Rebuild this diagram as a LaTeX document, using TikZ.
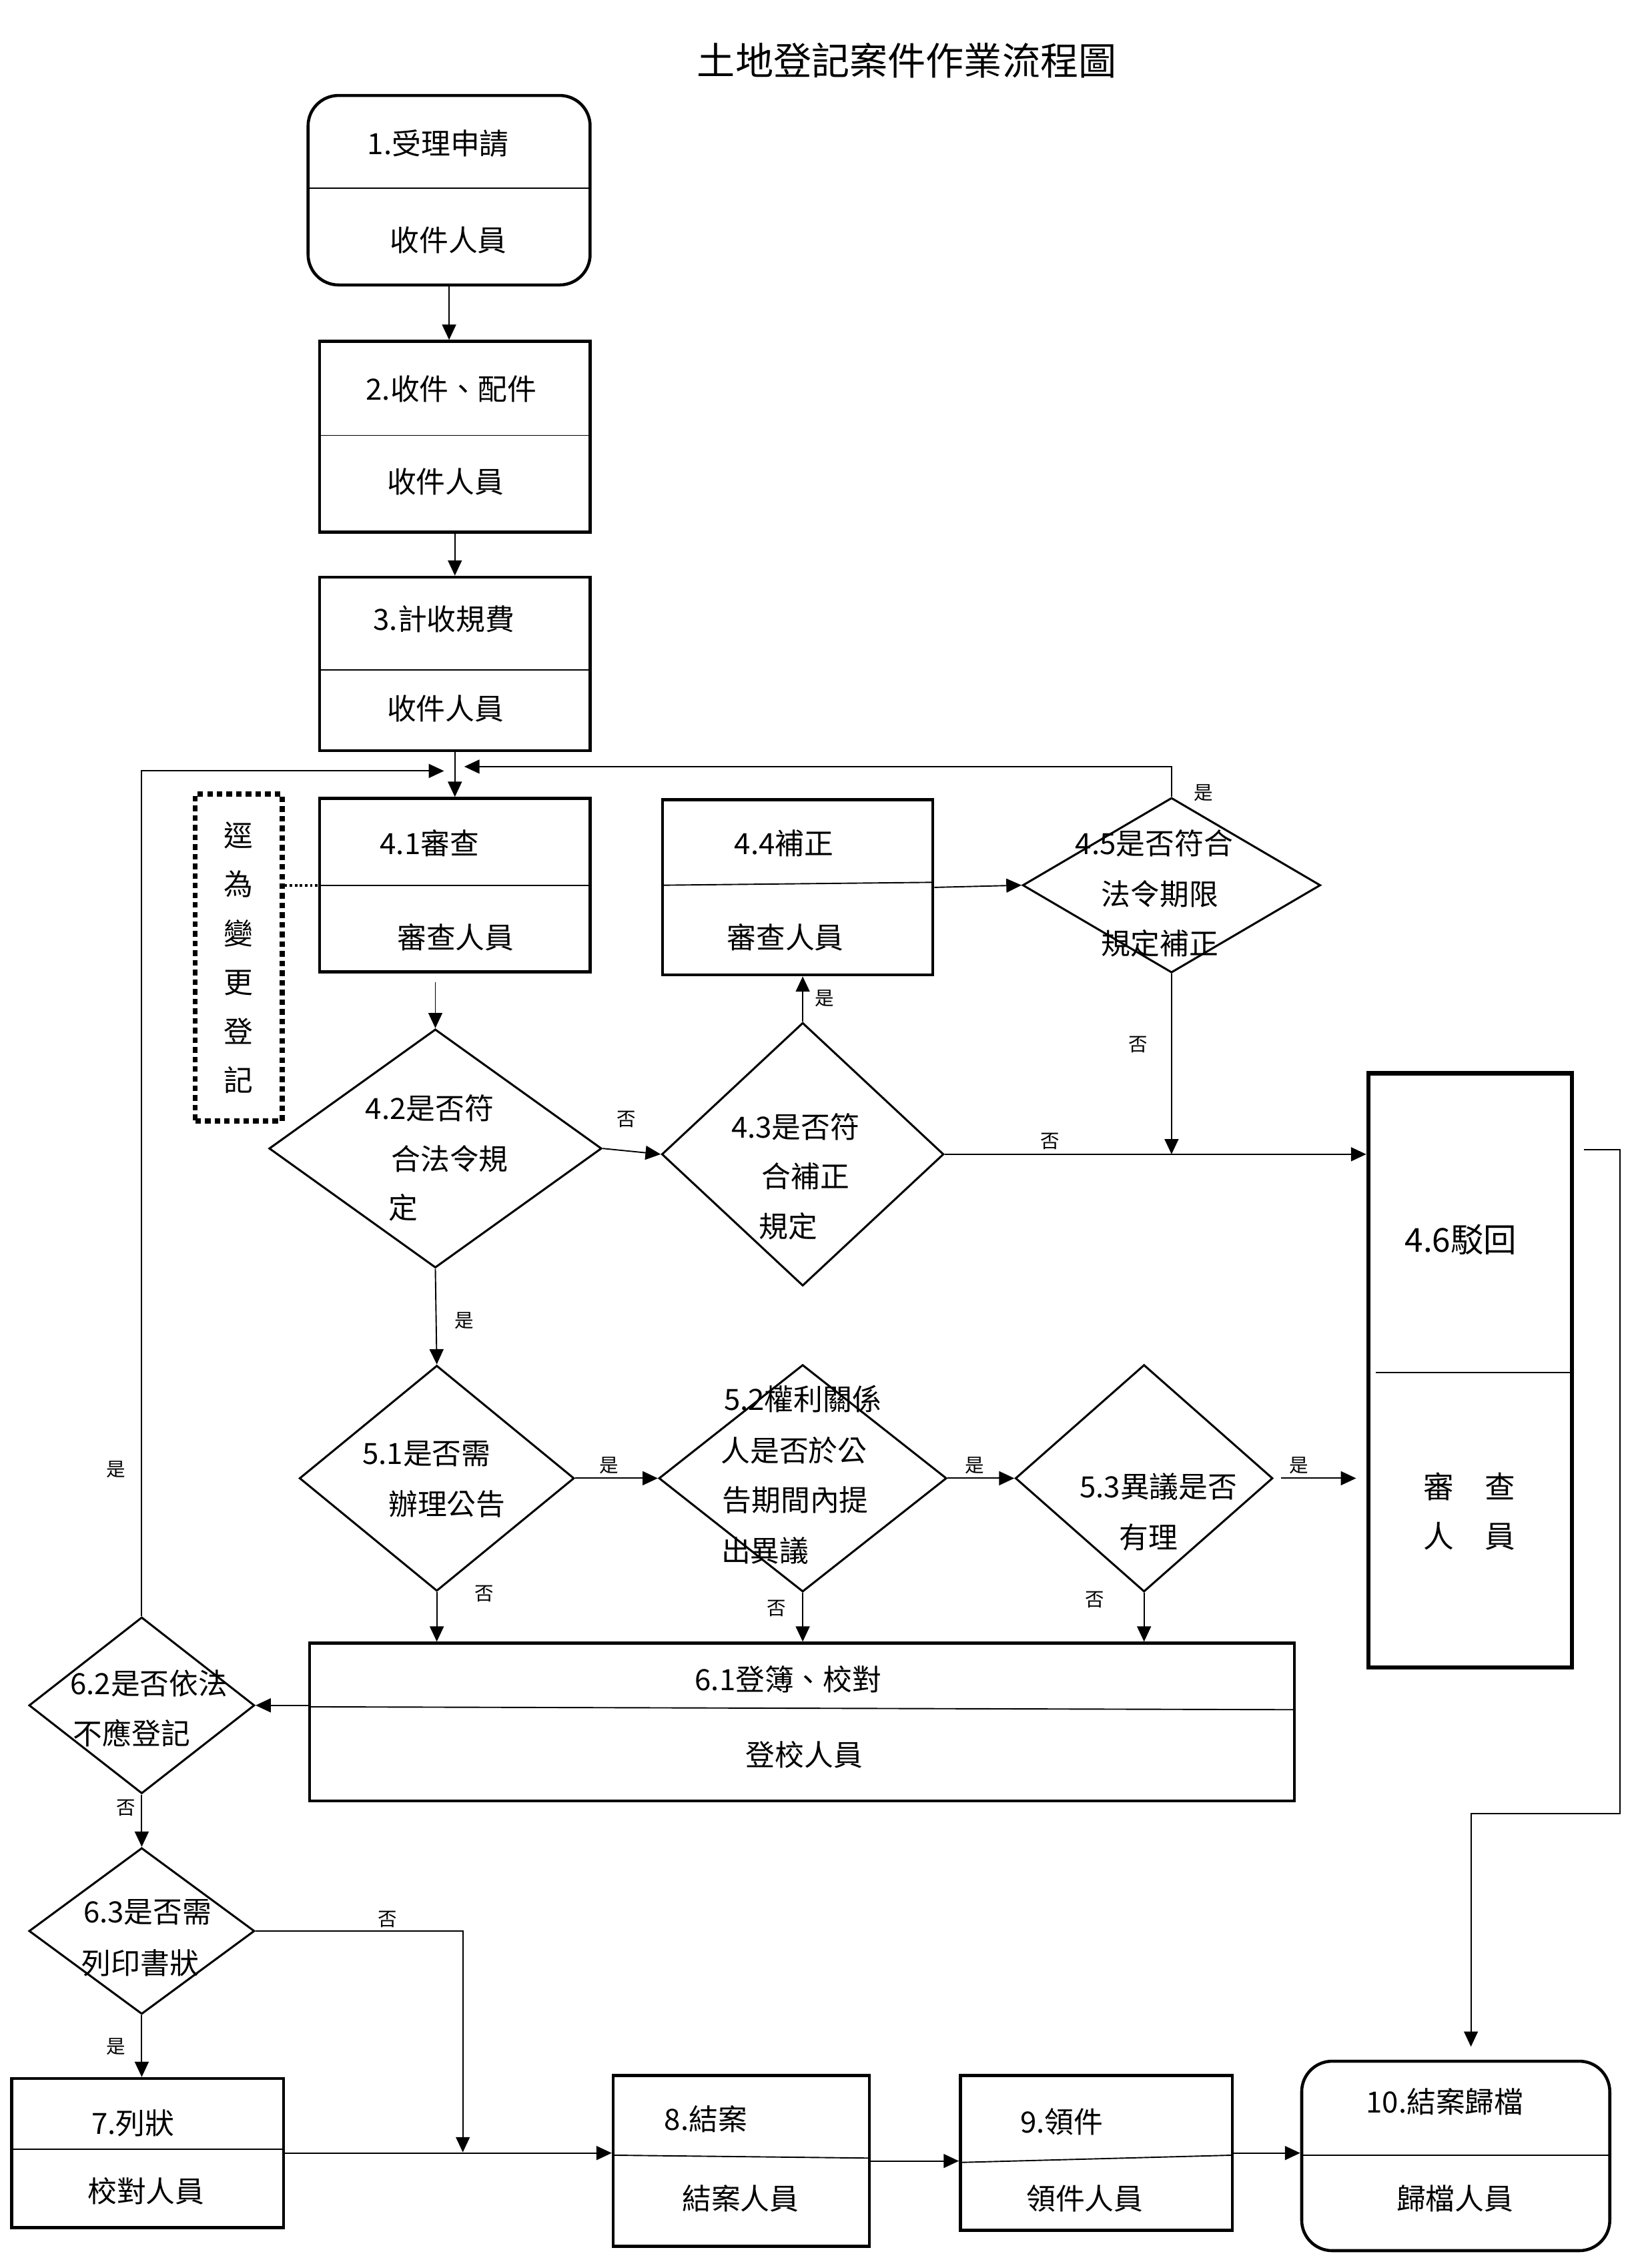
\documentclass[tikz,border=0pt]{standalone}
\usepackage{fontspec}
\setmainfont{Noto Sans CJK TC}
\usetikzlibrary{arrows.meta, positioning, calc, shapes.geometric, fit}

\tikzset{
  box/.style={draw, line width=1.2pt, inner sep=0pt},
  rbox/.style={box, rounded corners=12pt},
  cond/.style={draw, diamond, line width=0.8pt, inner sep=0pt},
  note/.style={draw, line width=2pt, dash pattern=on 2.2pt off 1.6pt, inner sep=0pt,
    align=center, font=\fontsize{11.5}{19.3}\selectfont},
  txt/.style={font=\fontsize{11.5}{14}\selectfont, inner sep=0pt},
  yn/.style={font=\fontsize{7.5}{9}\selectfont, inner sep=0pt},
  flow/.style={-{Triangle[length=6pt,width=5.5pt]}, line width=0.5pt},
  sep/.style={line width=0.5pt},
}

\begin{document}
\begin{tikzpicture}[x=0.02cm, y=-0.02cm]
  \useasboundingbox (0,0) rectangle (1131,1568);
  \node[font=\fontsize{15}{18}\selectfont] (title) at (627,42) {土地登記案件作業流程圖};

  % boxes
  \node[rbox, fit={(213,66)(408,197)}] (b1) {};
  \draw[sep] (213,130) -- (408,130);
  \node[txt] (b1a) at (303,99) {1.受理申請};
  \node[txt] (b1b) at (310,166) {收件人員};

  \node[box, fit={(221,236)(408,368)}] (b2) {};
  \draw[sep] (221,301) -- (408,301);
  \node[txt] (b2a) at (312,269) {2.收件、配件};
  \node[txt] (b2b) at (308,333) {收件人員};

  \node[box, fit={(221,399)(408,519)}] (b3) {};
  \draw[sep] (221,463) -- (408,463);
  \node[txt] (b3a) at (307,428) {3.計收規費};
  \node[txt] (b3b) at (308,490) {收件人員};

  \node[box, fit={(221,552)(408,672)}] (b41) {};
  \draw[sep] (221,612) -- (408,612);
  \node[txt] (b41a) at (297,583) {4.1審查};
  \node[txt] (b41b) at (315,648) {審查人員};

  \node[note, minimum width=1.2cm, minimum height=4.52cm] (note) at (165,662) {逕\\為\\變\\更\\登\\記};

  \node[box, fit={(458,553)(645,674)}] (b44) {};
  \draw[sep] (458,612) -- (645,610);
  \node[txt] (b44a) at (542,583) {4.4補正};
  \node[txt] (b44b) at (543,648) {審查人員};

  \node[box, line width=1.6pt, fit={(946,742)(1087,1153)}] (b46) {};
  \draw[sep] (951,949) -- (1087,949);
  \node[txt, font=\fontsize{13}{15}\selectfont] (b46a) at (1010,857) {4.6駁回};
  \node[txt, align=center, font=\fontsize{12}{19.3}\selectfont] (b46b) at (1016,1045) {審　查\\人　員};

  \node[box, fit={(214,1136)(895,1245)}] (b61) {};
  \draw[sep] (214,1180) -- (895,1182);
  \node[txt] (b61a) at (545,1161) {6.1登簿、校對};
  \node[txt] (b61b) at (556,1213) {登校人員};

  \node[box, fit={(8,1437)(196,1540)}] (b7) {};
  \draw[sep] (8,1486) -- (196,1486);
  \node[txt] (b7a) at (92,1468) {7.列狀};
  \node[txt] (b7b) at (101,1515) {校對人員};

  \node[box, fit={(424,1435)(601,1553)}] (b8) {};
  \draw[sep] (424,1490) -- (601,1492);
  \node[txt] (b8a) at (488,1465) {8.結案};
  \node[txt] (b8b) at (512,1520) {結案人員};

  \node[box, fit={(664,1435)(852,1542)}] (b9) {};
  \draw[sep] (664,1495) -- (852,1490);
  \node[txt] (b9a) at (734,1467) {9.領件};
  \node[txt] (b9b) at (750,1520) {領件人員};

  \node[rbox, fit={(900,1425)(1113,1556)}] (b10) {};
  \draw[sep] (900,1490) -- (1113,1490);
  \node[txt] (b10a) at (999,1453) {10.結案歸檔};
  \node[txt] (b10b) at (1006,1520) {歸檔人員};

  % decisions
  \node[cond, minimum width=4.6cm, minimum height=3.3cm] (d42) at (301,794) {};
  \node[txt] (d42a) at (297,766) {4.2是否符};
  \node[txt] (d42b) at (311,801) {合法令規};
  \node[txt] (d42c) at (279,835) {定};

  \node[cond, minimum width=3.9cm, minimum height=3.64cm] (d43) at (555,798) {};
  \node[txt] (d43a) at (550,779) {4.3是否符};
  \node[txt] (d43b) at (557,813) {合補正};
  \node[txt] (d43c) at (545,848) {規定};

  \node[cond, minimum width=4.12cm, minimum height=2.42cm] (d45) at (810,612) {};
  \node[txt] (d45a) at (798,583) {4.5是否符合};
  \node[txt] (d45b) at (802,618) {法令期限};
  \node[txt] (d45c) at (802,652) {規定補正};

  \node[cond, minimum width=3.8cm, minimum height=3.12cm] (d51) at (302,1022) {};
  \node[txt] (d51a) at (295,1005) {5.1是否需};
  \node[txt] (d51b) at (309,1040) {辦理公告};

  \node[cond, minimum width=3.98cm, minimum height=3.14cm] (d52) at (555,1022) {};
  \node[txt] (d52a) at (555,967) {5.2權利關係};
  \node[txt] (d52b) at (549,1003) {人是否於公};
  \node[txt] (d52c) at (550,1037) {告期間內提};
  \node[txt] (d52d) at (529,1072) {出異議};

  \node[cond, minimum width=3.56cm, minimum height=3.14cm] (d53) at (791,1022) {};
  \node[txt] (d53a) at (801,1028) {5.3異議是否};
  \node[txt] (d53b) at (794,1063) {有理};

  \node[cond, minimum width=3.12cm, minimum height=2.44cm] (d62) at (98,1179) {};
  \node[txt] (d62a) at (103,1164) {6.2是否依法};
  \node[txt] (d62b) at (91,1198) {不應登記};

  \node[cond, minimum width=3.12cm, minimum height=2.3cm] (d63) at (98,1335) {};
  \node[txt] (d63a) at (102,1322) {6.3是否需};
  \node[txt] (d63b) at (97,1357) {列印書狀};

  % connectors
  \coordinate (m1) at (307,533);
  \coordinate (m2) at (321,530);
  \coordinate (j1) at (320,1488);
  \coordinate (r1) at (1095,795);
  \coordinate (r2) at (1017,1415);

  \draw[flow] (b1.south) -- (b1.south |- b2.north);
  \draw[flow] (b2.south) -- (b3.north);
  \draw[flow] (b3.south) -- (b41.north);
  \draw[flow] (d62.north) |- (m1);
  \draw[flow] (d45.north) |- (m2);
  \draw[line width=1pt, densely dotted] (note.east |- b41.west) -- (b41.west);
  \draw[flow] ($(d42.north)+(0,-32)$) -- (d42.north);
  \draw[flow] (d42.east) -- (d43.west);
  \draw[flow] (d43.north) -- (d43.north |- b44.south);
  \draw[flow] (b44.east) -- (d45.west);
  \draw[flow] (d45.south) -- (d45.south |- d43.east);
  \draw[flow] (d43.east) -- (d43.east -| b46.west);
  \draw[flow] (d42.south) -- (d51.north);
  \draw[flow] (d51.east) -- (d52.west);
  \draw[flow] (d52.east) -- (d53.west);
  \draw[flow] ($(d53.east)+(5,0)$) -- ($(d53.east -| b46.west)+(-7,0)$);
  \draw[flow] (d51.south) -- (d51.south |- b61.north);
  \draw[flow] (d52.south) -- (d52.south |- b61.north);
  \draw[flow] (d53.south) -- (d53.south |- b61.north);
  \draw[flow] (b61.west |- d62.east) -- (d62.east);
  \draw[flow] (d62.south) -- (d63.north);
  \draw[flow] (d63.east) -| (j1);
  \draw[flow] (d63.south) -- (d63.south |- b7.north);
  \draw[flow] (b7.east) -- (b7.east -| b8.west);
  \draw[flow] (b8.east) -- (b8.east -| b9.west);
  \draw[flow] (b9.east) -- (b9.east -| b10.west);
  \draw[flow] (r1) -| (1120,1254) -| (r2);

  % yes / no
  \node[yn] (y1) at (832,548) {是};
  \node[yn] (y2) at (80,1016) {是};
  \node[yn] (n1) at (433,774) {否};
  \node[yn] (y3) at (570,690) {是};
  \node[yn] (n2) at (787,722) {否};
  \node[yn] (n3) at (726,789) {否};
  \node[yn] (y4) at (321,913) {是};
  \node[yn] (y5) at (421,1013) {是};
  \node[yn] (y6) at (674,1013) {是};
  \node[yn] (y7) at (898,1013) {是};
  \node[yn] (n4) at (335,1102) {否};
  \node[yn] (n5) at (537,1112) {否};
  \node[yn] (n6) at (757,1106) {否};
  \node[yn] (n7) at (87,1250) {否};
  \node[yn] (n8) at (268,1327) {否};
  \node[yn] (y8) at (80,1415) {是};
\end{tikzpicture}
\end{document}
